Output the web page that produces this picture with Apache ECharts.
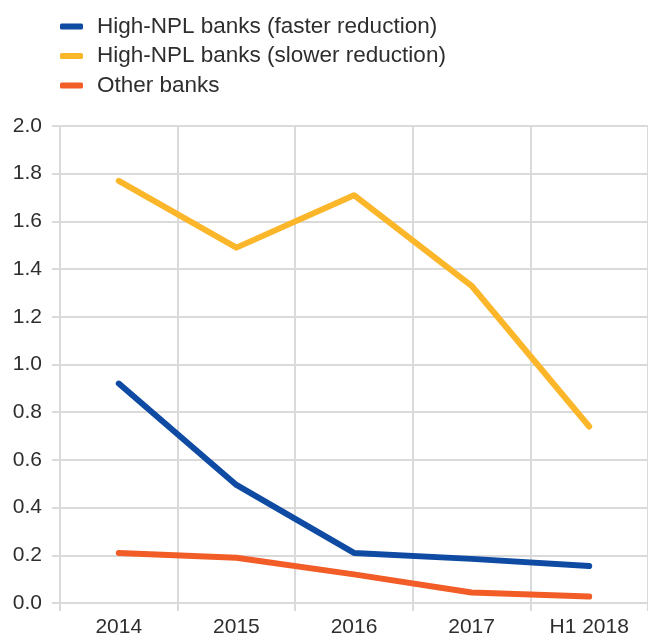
<!DOCTYPE html>
<html>
<head>
<meta charset="utf-8">
<script src="https://cdn.jsdelivr.net/npm/echarts@6/dist/echarts.min.js"></script>
<style>
  html, body { margin: 0; padding: 0; background: #fff; }
  #chart { width: 648px; height: 640px; }
</style>
</head>
<body>
<div id="chart"></div>
<script>
// Periods on the horizontal axis
const periods = ['2014', '2015', '2016', '2017', 'H1 2018'];

// Series values
const fasterReduction = [0.92, 0.495, 0.21, 0.185, 0.155];
const slowerReduction = [1.77, 1.49, 1.71, 1.33, 0.74];
const otherBanks = [0.21, 0.19, 0.12, 0.044, 0.027];

const seriesNames = [
  'High-NPL banks (faster reduction)',
  'High-NPL banks (slower reduction)',
  'Other banks'
];
const colors = ['#0f4ba3', '#fbb62a', '#f25c26'];

const gridColor = '#dadada';
const textColor = '#2e2e2e';
const font = 'Liberation Sans, Arial, sans-serif';

const chart = echarts.init(document.getElementById('chart'));

function lineSeries(name, data, color) {
  return {
    name: name,
    type: 'line',
    data: data,
    symbol: 'none',
    lineStyle: { color: color, width: 6, cap: 'round', join: 'round' },
    itemStyle: { color: color },
    animation: false
  };
}

chart.setOption({
  animation: false,
  backgroundColor: '#ffffff',
  legend: {
    orient: 'vertical',
    left: 55,
    top: 10,
    itemWidth: 23,
    itemHeight: 6,
    itemGap: 6.5,
    icon: 'roundRect',
    textStyle: {
      color: textColor, fontSize: 22.5, fontFamily: font,
      padding: [0, 0, 0, 9]
    },
    data: seriesNames
  },
  grid: { left: 60, right: -2, top: 126, bottom: 37, containLabel: false },
  xAxis: {
    type: 'category',
    data: periods,
    boundaryGap: true,
    axisLine: { show: true, lineStyle: { color: gridColor, width: 2 } },
    axisTick: { show: true, length: 8, lineStyle: { color: gridColor, width: 2 } },
    splitLine: { show: true, lineStyle: { color: gridColor, width: 2 } },
    axisLabel: { color: textColor, fontSize: 21, fontFamily: font, margin: 14 }
  },
  yAxis: {
    type: 'value',
    min: 0,
    max: 2,
    interval: 0.2,
    axisLine: { show: true, lineStyle: { color: gridColor, width: 2 } },
    axisTick: { show: true, length: 8, lineStyle: { color: gridColor, width: 2 } },
    splitLine: { show: true, lineStyle: { color: gridColor, width: 2 } },
    axisLabel: {
      color: textColor, fontSize: 21, fontFamily: font, margin: 18,
      formatter: v => v.toFixed(1)
    }
  },
  series: [
    lineSeries(seriesNames[0], fasterReduction, colors[0]),
    lineSeries(seriesNames[1], slowerReduction, colors[1]),
    lineSeries(seriesNames[2], otherBanks, colors[2])
  ]
});
</script>
</body>
</html>
